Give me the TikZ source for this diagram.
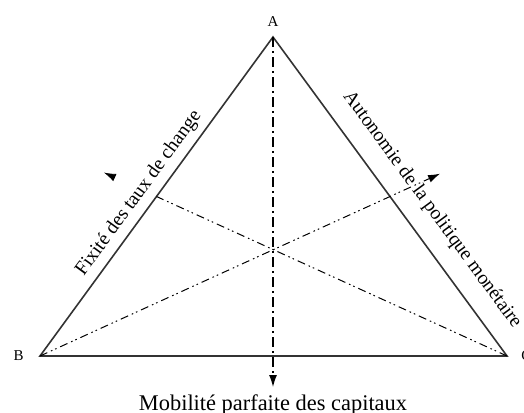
\documentclass[tikz,border=0pt]{standalone}
\usepackage{fontspec}
\setmainfont{Liberation Serif}
\usepackage{tikz}
\usetikzlibrary{arrows.meta, calc}

\tikzset{
  side/.style={draw=black!80, line width=0.8pt},
  median/.style={line width=0.5pt, dash pattern=on 4pt off 2pt on 0.8pt off 1.5pt on 0.8pt off 2pt},
  axe/.style={line width=0.6pt, dash pattern=on 5pt off 2pt on 1pt off 2pt},
  vertex/.style={font=\fontsize{7.5}{8}\selectfont, inner sep=1pt},
  sidelabel/.style={font=\fontsize{9.8}{11}\selectfont, sloped},
  tip/.style={-{Latex[length=6pt,width=4pt]}},
}

\begin{document}
\begin{tikzpicture}[x=0.5pt,y=-0.5pt]
\useasboundingbox (0,0) rectangle (524,412);

\coordinate (xa) at (273,37);
\node (a_l) at (273,22) [vertex] {A};

\coordinate (xb) at (40,356);
\node[anchor=east, vertex] (b_l) at (26,356){B};

\coordinate (xc) at (507,356);
\node[anchor=west, vertex] (c_l) at (519,356){C};

\draw[side] (xa)--(xb)--(xc)--cycle;

% labels along the sides
\path (xb) -- node[sidelabel, pos=0.48, above] (fixite) {Fixité des taux de change} (xa);
\path (xa) -- node[sidelabel, pos=0.59, above=5pt] (autonomie) {Autonomie de la politique monétaire} (xc);

% medians
\coordinate (mab) at ($(xa)!0.5!(xb)$);
\coordinate (mac) at ($(xa)!0.5!(xc)$);
\coordinate (tip_l) at ($(xc)!1.15!(mab)$);
\coordinate (tip_r) at ($(xb)!1.143!(mac)$);

\draw[median] (xc)--(mab);
\draw[tip] ($(xc)!1.13!(mab)$)--(tip_l);
\draw[median, tip] (xb)--(tip_r);

\coordinate (mob) at (273,387);
\draw[axe, tip] (xa)--(mob);
\node[anchor=base, font=\fontsize{11.2}{13}\selectfont] (mobilite) at (273,410){Mobilité parfaite des capitaux};
\end{tikzpicture}
\end{document}
